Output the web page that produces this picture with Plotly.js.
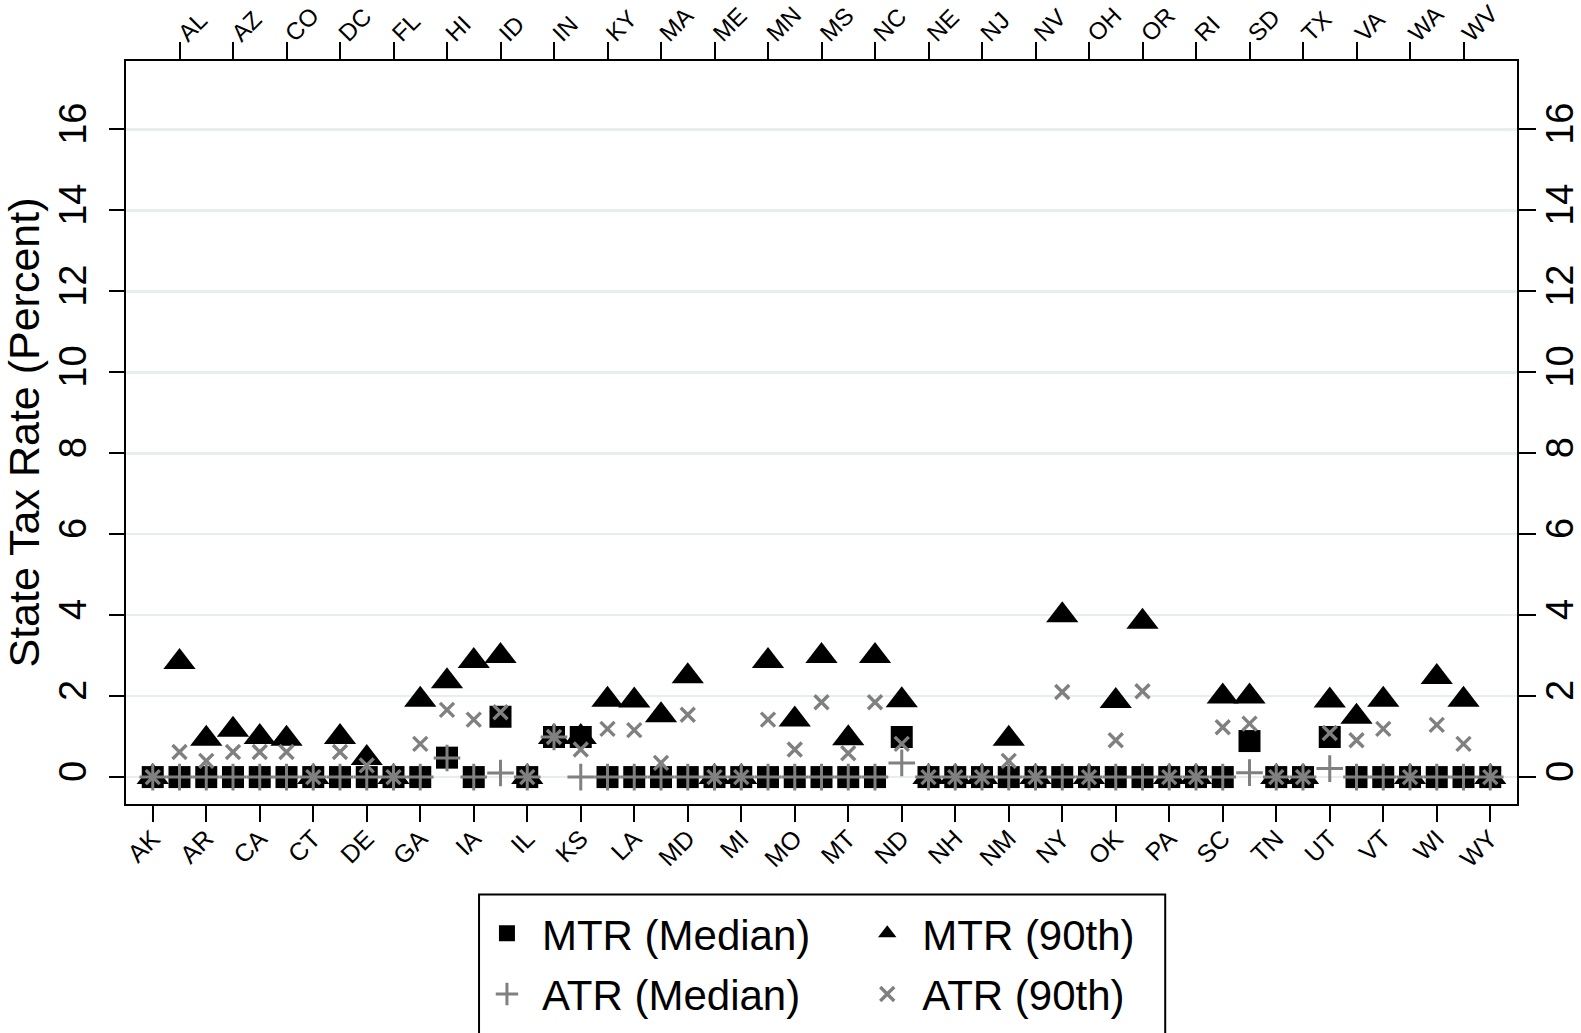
<!DOCTYPE html>
<html>
<head>
<meta charset="utf-8">
<script src="https://cdn.plot.ly/plotly-3.0.1.min.js"></script>
<style>html,body{margin:0;padding:0;background:#fff;}#chart{width:1581px;height:1033px;}</style>
</head>
<body>
<div id="chart"></div>
<script>
// ---- data ----
var states = ["AK","AL","AR","AZ","CA","CO","CT","DC","DE","FL","GA","HI","IA","ID","IL","IN","KS","KY","LA","MA","MD","ME","MI","MN","MO","MS","MT","NC","ND","NE","NH","NJ","NM","NV","NY","OH","OK","OR","PA","RI","SC","SD","TN","TX","UT","VA","VT","WA","WI","WV","WY"];

var mtrMedian = [0,0,0,0,0,0,0,0,0,0,0,0.48,0,1.49,0,0.99,0.99,0,0,0,0,0,0,0,0,0,0,0,0.99,0,0,0,0,0,0,0,0,0,0,0,0,0.89,0,0,0.99,0,0,0,0,0,0];

var mtr90 = [0,2.84,0.95,1.17,0.99,0.95,0,0.99,0.47,0,1.91,2.37,2.87,2.99,0,0.99,0.99,1.91,1.89,1.53,2.49,0,0,2.87,1.42,2.99,0.96,2.99,1.90,0,0,0,0.95,0,4.0,0,1.88,3.84,0,0,1.99,1.99,0,0,1.89,1.49,1.91,0,2.47,1.91,0];

var atrMedian = [0,0,0,0,0,0,0,0,0,0,0,0.47,0,0.10,0,0.99,0,0,0,0,0,0,0,0,0,0,0,0,0.35,0,0,0,0,0,0,0,0,0,0,0,0,0.11,0,0,0.21,0,0,0,0,0,0];

var atr90 = [0,0.62,0.40,0.62,0.62,0.62,0,0.62,0.29,0,0.82,1.66,1.42,1.60,0,0.99,0.68,1.19,1.16,0.35,1.54,0,0,1.42,0.68,1.85,0.59,1.85,0.82,0,0,0,0.40,0,2.10,0,0.91,2.12,0,0,1.23,1.32,0,0,1.09,0.91,1.19,0,1.29,0.82,0];

var seriesNames = ["MTR (Median)","MTR (90th)","ATR (Median)","ATR (90th)"];
var yTickVals = [0,2,4,6,8,10,12,14,16];
var yTitle = "State Tax Rate (Percent)";

// tick label sets: bottom axis shows every other state starting at AK, top axis the rest
var bottomStates = states.filter(function(s,i){return i%2===0;});
var topStates = states.filter(function(s,i){return i%2===1;});

// ---- styling ----
var FONT = "Liberation Sans, Arial, Helvetica, sans-serif";
var BLACK = "#000000";
var GRAY = "#808080";

var traces = [
  {type:"scatter", mode:"markers", name:seriesNames[1], x:states, y:mtr90,
   marker:{symbol:"triangle-up", size:28, color:BLACK, line:{width:0}},
   legend:"legend2", legendgroup:"b", hoverinfo:"skip"},
  {type:"scatter", mode:"markers", name:seriesNames[0], x:states, y:mtrMedian,
   marker:{symbol:"square", size:22, color:BLACK, line:{width:0}},
   legend:"legend", legendgroup:"a", hoverinfo:"skip"},
  {type:"scatter", mode:"markers", name:seriesNames[2], x:states, y:atrMedian,
   marker:{symbol:"cross-thin", size:19, color:GRAY, line:{width:3, color:GRAY}},
   legend:"legend", legendgroup:"c", hoverinfo:"skip"},
  {type:"scatter", mode:"markers", name:seriesNames[3], x:states, y:atr90,
   marker:{symbol:"x-thin", size:14, color:GRAY, line:{width:3.4, color:GRAY}},
   legend:"legend2", legendgroup:"d", hoverinfo:"skip"},
  // invisible companions so the mirrored top and right axes are drawn
  {type:"scatter", mode:"markers", x:states, y:mtrMedian, xaxis:"x2", yaxis:"y",
   marker:{opacity:0}, showlegend:false, hoverinfo:"skip"},
  {type:"scatter", mode:"markers", x:states, y:mtrMedian, xaxis:"x", yaxis:"y2",
   marker:{opacity:0}, showlegend:false, hoverinfo:"skip"}
];

var xCommon = {
  type:"category", categoryorder:"array", categoryarray:states,
  range:[-1,51], tickangle:-45, ticks:"outside", ticklen:16, tickwidth:2, tickcolor:BLACK,
  showline:true, linewidth:2, linecolor:BLACK, showgrid:false, zeroline:false,
  tickfont:{family:FONT, size:25, color:BLACK}, automargin:false, fixedrange:true
};

var layout = {
  width:1581, height:1033,
  margin:{l:126, r:64, t:61, b:229, pad:0, autoexpand:false},
  paper_bgcolor:"#ffffff", plot_bgcolor:"#ffffff",
  font:{family:FONT, color:BLACK},
  hovermode:false,
  showlegend:true,
  xaxis: Object.assign({}, xCommon, {tickmode:"array", tickvals:bottomStates, ticktext:bottomStates, side:"bottom", ticklabelstandoff:-8}),
  xaxis2: Object.assign({}, xCommon, {tickmode:"array", tickvals:topStates, ticktext:topStates, side:"top", overlaying:"x", anchor:"y", ticklen:17, ticklabelstandoff:-14, tickfont:{family:FONT, size:24, color:BLACK}}),
  yaxis:{
    range:[-0.665,17.69], tickmode:"array", tickvals:yTickVals, ticktext:yTickVals.map(String),
    tickangle:-90, ticks:"outside", ticklen:15, tickwidth:2, tickcolor:BLACK,
    showline:true, linewidth:2, linecolor:BLACK,
    showgrid:true, gridcolor:"#e6eef0", gridwidth:2.5, zeroline:false,
    tickfont:{family:FONT, size:38, color:BLACK}, ticklabelstandoff:8,
    title:{text:yTitle, font:{family:FONT, size:43, color:BLACK}, standoff:4},
    automargin:false, fixedrange:true
  },
  yaxis2:{
    range:[-0.665,17.69], overlaying:"y", side:"right", anchor:"x",
    tickmode:"array", tickvals:yTickVals, ticktext:yTickVals.map(String),
    tickangle:-90, ticks:"outside", ticklen:17, tickwidth:2, tickcolor:BLACK,
    showline:true, linewidth:2, linecolor:BLACK, showgrid:false, zeroline:false,
    tickfont:{family:FONT, size:38, color:BLACK}, ticklabelstandoff:-9,
    automargin:false, fixedrange:true
  },
  legend:{x:0.2487, xanchor:"left", y:-0.1286, yanchor:"top", orientation:"v",
    bgcolor:"rgba(0,0,0,0)", borderwidth:0, tracegroupgap:3, itemwidth:60,
    font:{family:FONT, size:42, color:BLACK}},
  legend2:{x:0.5221, xanchor:"left", y:-0.1286, yanchor:"top", orientation:"v",
    bgcolor:"rgba(0,0,0,0)", borderwidth:0, tracegroupgap:3, itemwidth:60,
    font:{family:FONT, size:42, color:BLACK}},
  shapes:[
    {type:"rect", xref:"paper", yref:"paper", x0:0.2538, x1:0.7471, y0:-0.1217, y1:-0.33,
     line:{color:BLACK, width:2}, fillcolor:"rgba(0,0,0,0)", layer:"above"}
  ]
};

Plotly.newPlot("chart", traces, layout, {staticPlot:true, displayModeBar:false});
</script>
</body>
</html>
